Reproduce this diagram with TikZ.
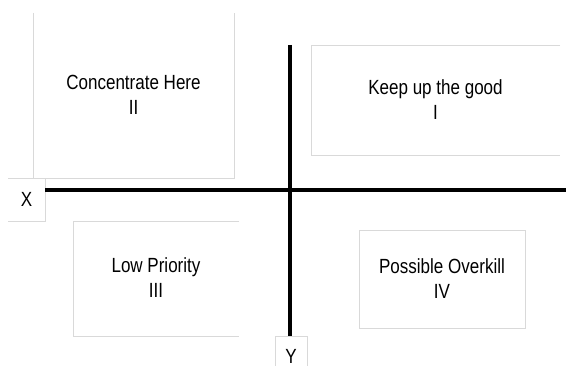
\documentclass[tikz,border=0pt]{standalone}
\usepackage{fontspec}
\setmainfont{Liberation Sans}
\usepackage{graphicx}
\newcommand{\qtext}[2]{\scalebox{0.83}[1]{\begin{tabular}{@{}c@{}}#1\\#2\end{tabular}}}
\newcommand{\qone}[1]{\scalebox{0.83}[1]{#1}}
\begin{document}
\begin{tikzpicture}[x=1pt,y=-1pt,
  qbox/.style={inner sep=0pt, outer sep=0pt},
  qedge/.style={draw=gray!30, line width=0.8pt},
  qlabel/.style={font=\fontsize{20.5}{25}\selectfont, inner sep=0pt},
  axis/.style={line width=4pt, black}]
\useasboundingbox[fill=white] (0,0) rectangle (566,366);
% quadrant boxes
\node[qbox, minimum width=201pt, minimum height=165pt] (b2) at (133.5,95.5) {};
\node[qbox, minimum width=249pt, minimum height=110pt] (b1) at (435.5,100) {};
\node[qbox, minimum width=166pt, minimum height=115pt] (b3) at (156,278.5) {};
\node[qbox, minimum width=166pt, minimum height=98pt] (b4) at (442,279) {};
\node[qbox, minimum width=37pt, minimum height=43pt] (bx) at (26.5,199.5) {};
\node[qbox, minimum width=32pt, minimum height=40pt] (by) at (291,356) {};
% visible box edges
\draw[qedge] (b2.north west) -- (b2.south west) -- (b2.south east) -- (b2.north east);
\draw[qedge] (b1.north east) -- (b1.north west) -- (b1.south west) -- (b1.south east);
\draw[qedge] (b3.north east) -- (b3.north west) -- (b3.south west) -- (b3.south east);
\draw[qedge] (b4.north west) rectangle (b4.south east);
\draw[qedge] (bx.north west) -- (bx.north east) -- (bx.south east) -- (bx.south west);
\draw[qedge] (by.south west) -- (by.north west) -- (by.north east) -- (by.south east);
% axes
\coordinate (hx) at (566,190);
\coordinate (vy) at (290,45);
\draw[axis] (bx.east |- hx) -- (hx);
\draw[axis] (vy) -- (vy |- by.north);
% texts
\node[qlabel] (t2) at ([yshift=-2pt]b2.center) {\qtext{Concentrate Here}{II}};
\node[qlabel] (t1) at ([yshift=-2pt]b1.center) {\qtext{Keep up the good}{I}};
\node[qlabel] (t3) at ([yshift=-2pt]b3.center) {\qtext{Low Priority}{III}};
\node[qlabel] (t4) at ([yshift=-2pt]b4.center) {\qtext{Possible Overkill}{IV}};
\node[qlabel] (tx) at (bx.center) {\qone{X}};
\node[qlabel] (ty) at (291,356) {\qone{Y}};
\end{tikzpicture}
\end{document}
